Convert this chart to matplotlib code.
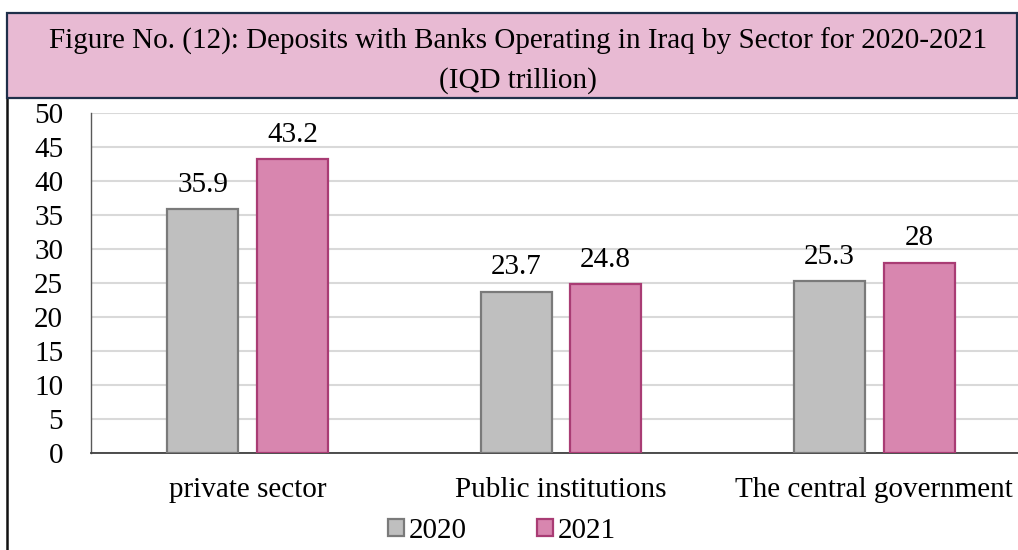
import matplotlib
matplotlib.use("Agg")
import matplotlib.pyplot as plt
from matplotlib.patches import Rectangle
from matplotlib.lines import Line2D
import numpy as np

plt.rcParams['font.family'] = ['Liberation Serif', 'DejaVu Serif']

categories = ["private sector", "Public institutions", "The central government"]
years = ["2020", "2021"]
values_2020 = [35.9, 23.7, 25.3]
values_2021 = [43.2, 24.8, 28]
y_ticks = [0, 5, 10, 15, 20, 25, 30, 35, 40, 45, 50]

title_line1 = "Figure No. (12): Deposits with Banks Operating in Iraq by Sector for 2020-2021"
title_line2 = "(IQD trillion)"

FS = 21
W, H = 1018, 550
fig = plt.figure(figsize=(W / 100, H / 100), dpi=100)

# plot area (right edge runs past the canvas)
ax = fig.add_axes([91 / W, (H - 453) / H, 940 / W, 340 / H])

x = np.arange(len(categories))
bw = 0.2265
off = 0.1427
face = ["#BFBFBF", "#D886AF"]
edge = ["#7A7A7A", "#A93C74"]

for i, vals in enumerate([values_2020, values_2021]):
    pos = x + (-off if i == 0 else off)
    bars = ax.bar(pos, vals, width=bw, color=face[i], edgecolor=edge[i],
                  linewidth=1.6, zorder=3)
    for b, v in zip(bars, vals):
        ax.annotate(f"{v:g}", (b.get_x() + b.get_width() / 2, v),
                    xytext=(0, 12.5), textcoords="offset points",
                    ha="center", va="baseline", fontsize=FS, color="#000000")

ax.set_xlim(-0.5, len(categories) - 0.5)
ax.set_ylim(0, 50)
ax.set_yticks(y_ticks)
ax.set_yticklabels([str(t) for t in y_ticks], fontsize=FS)
ax.set_xticks(x)
ax.set_xticklabels(categories, fontsize=FS)
ax.tick_params(axis="y", length=0, pad=20)
ax.tick_params(axis="x", length=0, pad=17)
ax.yaxis.grid(True, color="#D9D9D9", linewidth=1.5, zorder=0)
ax.set_axisbelow(True)
for s in ["top", "right"]:
    ax.spines[s].set_visible(False)
ax.spines["left"].set_color("#595959")
ax.spines["left"].set_linewidth(1.0)
ax.spines["bottom"].set_color("#404040")
ax.spines["bottom"].set_linewidth(1.3)

# title banner
fig.patches.append(Rectangle((7 / W, (H - 98) / H), 1010 / W, 85 / H,
                             transform=fig.transFigure, facecolor="#E8BAD3",
                             edgecolor="#1F2F4A", linewidth=1.6, zorder=5))
fig.text(518 / W, (H - 41) / H, title_line1, ha="center", va="center",
         fontsize=FS, color="#000000", zorder=6)
fig.text(518 / W, (H - 81) / H, title_line2, ha="center", va="center",
         fontsize=FS, color="#000000", zorder=6)

# frame line on the left side
fig.add_artist(Line2D([7 / W, 7 / W], [0, (H - 98) / H], transform=fig.transFigure,
                      color="#111111", linewidth=1.8))

handles = [Rectangle((0, 0), 1, 1, facecolor=face[i], edgecolor=edge[i], linewidth=1.6)
           for i in range(2)]
fig.legend(handles, years, loc="center", bbox_to_anchor=(502 / W, 1 - 531 / H),
           ncol=2, frameon=False, fontsize=FS, handlelength=0.55, handleheight=0.55,
           handletextpad=0.17, columnspacing=2.4, borderpad=0, borderaxespad=0)

fig.savefig("out.png", dpi=100)
